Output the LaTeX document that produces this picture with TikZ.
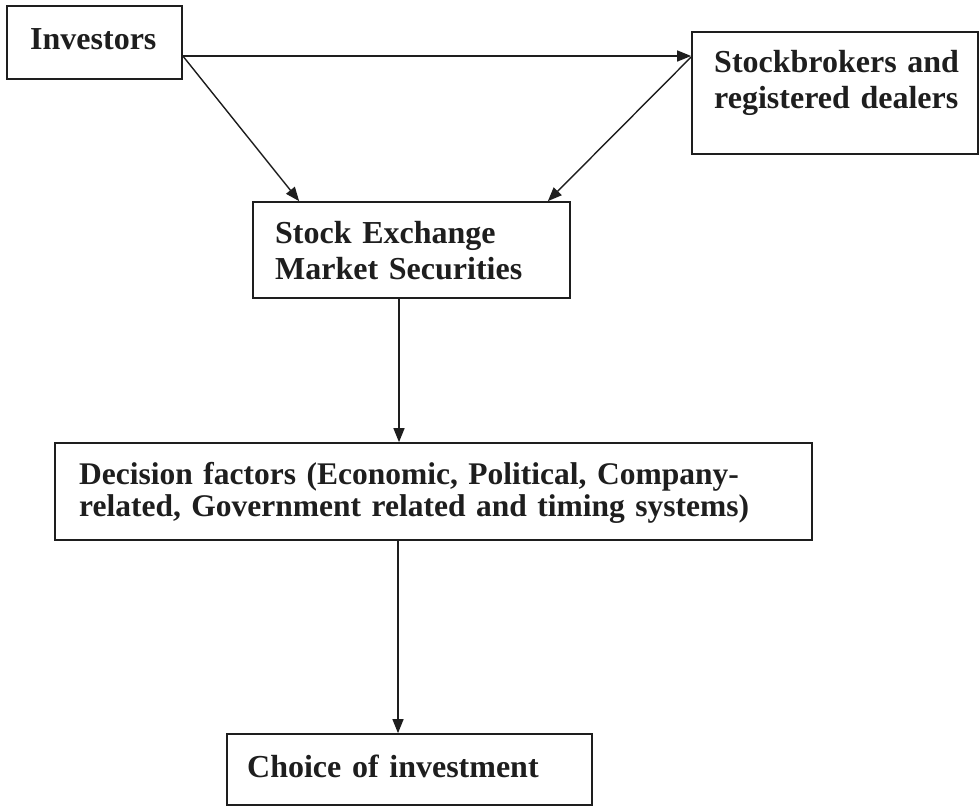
\documentclass[tikz,border=0pt]{standalone}
\usepackage{fontspec}
\setmainfont{Liberation Serif}
\usetikzlibrary{arrows.meta}
\definecolor{ink}{RGB}{30,30,30}
\begin{document}
\begin{tikzpicture}[x=1pt,y=-1pt,
  box/.style={draw=ink, line width=1.7pt, inner sep=0pt, rectangle},
  lbl/.style={inner sep=0pt, anchor=base west, align=left, text=ink,
    font=\bfseries\fontsize{32}{36}\selectfont},
  arr/.style={draw=ink, line width=1.4pt, -{Triangle[length=14pt,width=11pt]}}]
\useasboundingbox (0,0) rectangle (979,807);
% boxes
\node[box, minimum width=175pt, minimum height=73pt] (inv) at (94.5,42.5) {};
\node[box, minimum width=286pt, minimum height=122pt] (sb) at (835,93) {};
\node[box, minimum width=317pt, minimum height=96pt] (se) at (411.5,250) {};
\node[box, minimum width=757pt, minimum height=97pt] (dec) at (433.5,491.5) {};
\node[box, minimum width=365pt, minimum height=71pt] (cho) at (409.5,769.5) {};
% texts
\node[lbl, text width=160pt] (invt) at (30,49) {Investors};
\node[lbl, text width=260pt] (sbt) at (714,72) {Stockbrokers and\\registered dealers};
\node[lbl, text width=290pt] (set) at (275,243) {Stock Exchange\\Market Securities};
\node[lbl, text width=720pt, font=\bfseries\fontsize{31.5}{32}\selectfont] (dect) at (79,484)
  {Decision factors (Economic, Political, Company-\\related, Government related and timing systems)};
\node[lbl, text width=330pt] (chot) at (247,777) {Choice of investment};
% connectors
\draw[arr] ([yshift=-13.5pt]inv.east) -- ([yshift=-13.5pt]inv.east -| sb.west);
\draw[arr] ([yshift=-13.5pt]inv.east) -- ([xshift=47pt]se.north west);
\draw[arr] ([yshift=36pt]sb.west) -- ([xshift=-23pt]se.north east);
\draw[arr] ([xshift=-12.5pt]se.south) -- ([xshift=-12.5pt]se.south |- dec.north);
\draw[arr] ([xshift=-11.5pt]cho.north |- dec.south) -- ([xshift=-11.5pt]cho.north);
\end{tikzpicture}
\end{document}
